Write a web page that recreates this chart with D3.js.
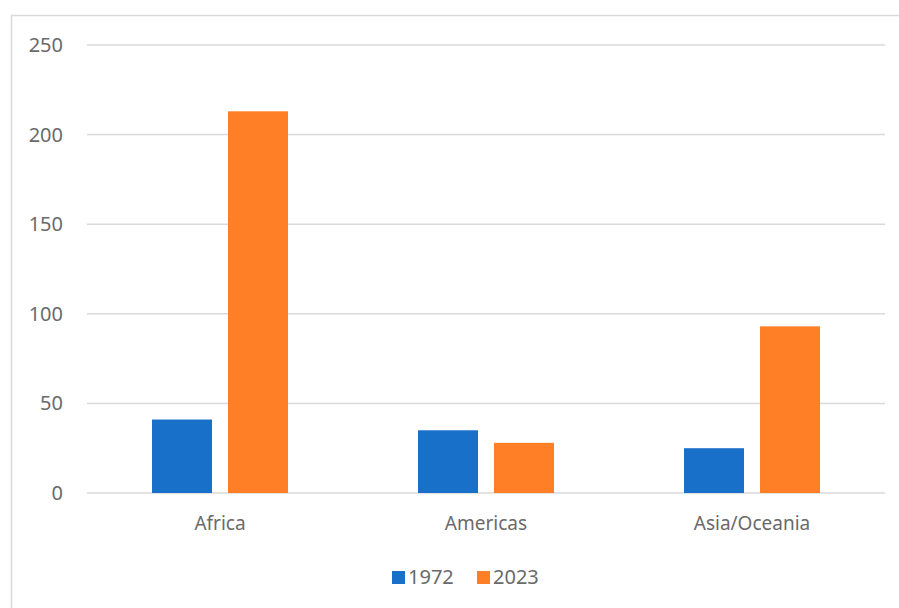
<!DOCTYPE html>
<html lang="en">
<head><meta charset="utf-8"/>
<style>
body { margin:0; background:#fff; }
text { font-family: "Noto Sans", sans-serif; fill:#6a6a6a; }
.grid line { stroke:#d9d9d9; stroke-width:1.5px; }
</style>
</head>
<body>
<svg id="chart" width="899" height="608"></svg>
<script src="https://cdn.jsdelivr.net/npm/d3@7"></script>
<script>
var categories = ["Africa", "Americas", "Asia/Oceania"];
var keys = ["1972", "2023"];
var values1972 = [41, 35, 25];
var values2023 = [213, 28, 93];
var yTicks = [0, 50, 100, 150, 200, 250];

var colors = {"1972": "#1870c8", "2023": "#ff7f27"};

var svg = d3.select("#chart");

// chart frame
svg.append("rect")
	.attr("x", 11.5).attr("y", 15.5)
	.attr("width", 900).attr("height", 600)
	.attr("fill", "none").attr("stroke", "#d9d9d9").attr("stroke-width", 1.5);

var margin = {left: 87, right: 14, top: 45, bottom: 115},
    width = 899 - margin.left - margin.right,
    height = 608 - margin.top - margin.bottom;

var g = svg.append("g").attr("transform", "translate(" + margin.left + "," + margin.top + ")");

var x0 = d3.scaleBand().domain(categories).range([0, width]).padding(0);
var bw = x0.bandwidth();
var x1 = d3.scaleBand().domain(keys)
	.range([bw * 0.2444, bw * 0.7556]).paddingInner(0.2105).paddingOuter(0);
var y = d3.scaleLinear().domain([0, 250]).range([height, 0]);

// gridlines
g.append("g").attr("class", "grid")
	.selectAll("line").data(yTicks).enter().append("line")
	.attr("x1", 0).attr("x2", width)
	.attr("y1", d => y(d)).attr("y2", d => y(d));

// y tick labels
g.append("g").selectAll("text").data(yTicks).enter().append("text")
	.attr("x", -24).attr("y", d => y(d)).attr("dy", "0.35em")
	.attr("text-anchor", "end").style("font-size", "20px")
	.text(d => d);

var data = categories.map((c, i) => ({cat: c, vals: [
	{key: "1972", value: values1972[i]},
	{key: "2023", value: values2023[i]}
]}));

var groups = g.selectAll(".grp").data(data).enter().append("g")
	.attr("class", "grp")
	.attr("transform", d => "translate(" + x0(d.cat) + ",0)");

groups.selectAll("rect").data(d => d.vals).enter().append("rect")
	.attr("x", d => x1(d.key))
	.attr("width", x1.bandwidth())
	.attr("y", d => y(d.value))
	.attr("height", d => height - y(d.value))
	.attr("fill", d => colors[d.key]);

// x axis labels
g.append("g").selectAll("text").data(categories).enter().append("text")
	.attr("x", d => x0(d) + bw / 2).attr("y", height + 30).attr("dy", "0.35em")
	.attr("text-anchor", "middle").style("font-size", "19px")
	.text(d => d);

// legend
var legend = svg.append("g").attr("transform", "translate(392,577)");
var lx = [0, 85];
keys.forEach(function(k, i){
	legend.append("rect").attr("x", lx[i]).attr("y", -6)
		.attr("width", 13).attr("height", 13).attr("fill", colors[k]);
	legend.append("text").attr("x", lx[i] + 16).attr("y", 0).attr("dy", "0.35em")
		.style("font-size", "20px").text(k);
});
</script>
</body>
</html>
